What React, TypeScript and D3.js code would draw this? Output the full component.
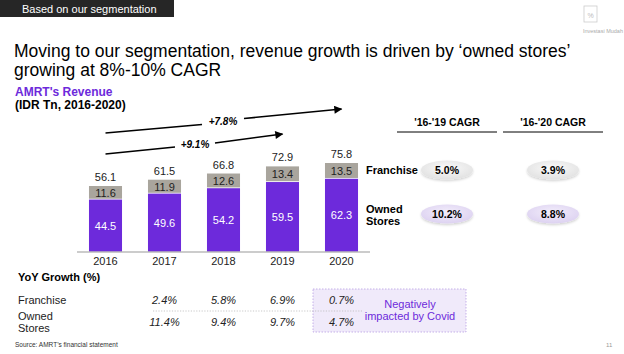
import React from "react";
import * as d3 from "d3";

const years = ["2016", "2017", "2018", "2019", "2020"];
const ownedStores = [44.5, 49.6, 54.2, 59.5, 62.3];
const franchise = [11.6, 11.9, 12.6, 13.4, 13.5];
const totals = [56.1, 61.5, 66.8, 72.9, 75.8];
const yoyFranchise = ["", "2.4%", "5.8%", "6.9%", "0.7%"];
const yoyOwned = ["", "11.4%", "9.4%", "9.7%", "4.7%"];
const cagrHeaders = ["'16-'19 CAGR", "'16-'20 CAGR"];
const cagrFranchise = ["5.0%", "3.9%"];
const cagrOwned = ["10.2%", "8.8%"];

const PURPLE = "#6D2ADB";
const GRAY = "#A9A59D";
const FONT = "'Liberation Sans', Arial, sans-serif";

export default function App() {
  const W = 624, H = 354;
  const x = d3.scaleBand<string>().domain(years).range([76, 371]).paddingInner(0.44).paddingOuter(0.22);
  const y = d3.scaleLinear().domain([0, 80]).range([251.5, 158.1]);
  const cx = (yr: string) => (x(yr) as number) + x.bandwidth() / 2;
  const cagrX = [447, 553];

  return (
    <svg width={W} height={H} style={{ position: "absolute", left: 0, top: 0, background: "#fff" }} fontFamily={FONT}>
      <defs>
        <marker id="ah" viewBox="0 0 10 10" refX="9" refY="5" markerWidth="6" markerHeight="5" orient="auto">
          <path d="M0,0 L10,5 L0,10 z" fill="#000" />
        </marker>
        <radialGradient id="gGray" cx="50%" cy="40%" r="60%">
          <stop offset="0%" stopColor="#fafafa" />
          <stop offset="100%" stopColor="#e2e2e2" />
        </radialGradient>
        <radialGradient id="gPurple" cx="50%" cy="40%" r="60%">
          <stop offset="0%" stopColor="#f3eefb" />
          <stop offset="100%" stopColor="#ddd2f1" />
        </radialGradient>
        <filter id="sh" x="-20%" y="-30%" width="140%" height="170%">
          <feDropShadow dx="0" dy="1.5" stdDeviation="1.2" floodColor="#000" floodOpacity="0.18" />
        </filter>
      </defs>

      {/* header bar */}
      <rect x={0} y={0} width={174} height={17} fill="#262626" />
      <text x={22} y={12.5} fontSize={11} fill="#fff">Based on our segmentation</text>

      {/* logo */}
      <rect x={584} y={6} width={13} height={16} fill="none" stroke="#ccc" strokeWidth={0.8} />
      <text x={590.5} y={18} fontSize={7} fill="#bbb" textAnchor="middle">%</text>
      <text x={623} y={33} fontSize={5.5} fill="#aaa" textAnchor="end">Investasi Mudah</text>

      {/* title */}
      <text x={14} y={57} fontSize={17.5} fill="#000">Moving to our segmentation, revenue growth is driven by ‘owned stores’</text>
      <text x={14} y={76} fontSize={17.5} fill="#000">growing at 8%-10% CAGR</text>
      <text x={15} y={96} fontSize={12} fontWeight="bold" fill={PURPLE}>AMRT's Revenue</text>
      <text x={15} y={109} fontSize={12} fontWeight="bold" fill="#000">(IDR Tn, 2016-2020)</text>

      {/* CAGR arrows */}
      <line x1={cx("2016")} y1={133} x2={202} y2={124.5} stroke="#000" strokeWidth={1.6} />
      <line x1={244} y1={118.5} x2={cx("2020")} y2={109} stroke="#000" strokeWidth={1.6} markerEnd="url(#ah)" />
      <text x={223} y={125} fontSize={10} fontWeight="bold" fontStyle="italic" textAnchor="middle">+7.8%</text>
      <line x1={cx("2016")} y1={154} x2={175} y2={147} stroke="#000" strokeWidth={1.6} />
      <line x1={215} y1={143} x2={cx("2019")} y2={134} stroke="#000" strokeWidth={1.6} markerEnd="url(#ah)" />
      <text x={195} y={148} fontSize={10} fontWeight="bold" fontStyle="italic" textAnchor="middle">+9.1%</text>

      {/* bars */}
      {years.map((yr, i) => {
        const x0 = x(yr) as number;
        const bw = x.bandwidth();
        const yO = y(ownedStores[i]);
        const yF = y(ownedStores[i] + franchise[i]);
        return (
          <g key={yr}>
            <rect x={x0} y={yO} width={bw} height={y(0) - yO} fill={PURPLE} />
            <rect x={x0} y={yF} width={bw} height={yO - yF - 0.8} fill={GRAY} />
            <text x={cx(yr)} y={(yO + y(0)) / 2 + 4} fontSize={11} fill="#fff" textAnchor="middle">{ownedStores[i].toFixed(1)}</text>
            <text x={cx(yr)} y={(yF + yO) / 2 + 4} fontSize={11} fill="#222" textAnchor="middle">{franchise[i].toFixed(1)}</text>
            <text x={cx(yr)} y={y(totals[i]) - 5} fontSize={11} fill="#222" textAnchor="middle">{totals[i].toFixed(1)}</text>
            <text x={cx(yr)} y={265} fontSize={11} fill="#222" textAnchor="middle">{yr}</text>
          </g>
        );
      })}
      <line x1={77} x2={370} y1={y(0) + 0.5} y2={y(0) + 0.5} stroke="#999" strokeWidth={1} />

      {/* CAGR table */}
      {cagrHeaders.map((h, j) => (
        <g key={h}>
          <text x={cagrX[j]} y={126} fontSize={10.5} fontWeight="bold" textAnchor="middle">{h}</text>
          <line x1={cagrX[j] - 50} x2={cagrX[j] + 50} y1={132} y2={132} stroke="#000" strokeWidth={1} />
          <ellipse cx={cagrX[j]} cy={170} rx={26} ry={9.5} fill="url(#gGray)" filter="url(#sh)" />
          <text x={cagrX[j]} y={174} fontSize={10.5} fontWeight="bold" textAnchor="middle">{cagrFranchise[j]}</text>
          <ellipse cx={cagrX[j]} cy={214} rx={26} ry={9.5} fill="url(#gPurple)" filter="url(#sh)" />
          <text x={cagrX[j]} y={218} fontSize={10.5} fontWeight="bold" textAnchor="middle">{cagrOwned[j]}</text>
        </g>
      ))}
      <text x={366} y={174} fontSize={11} fontWeight="bold">Franchise</text>
      <text x={366} y={213} fontSize={11} fontWeight="bold">Owned</text>
      <text x={366} y={225} fontSize={11} fontWeight="bold">Stores</text>

      {/* YoY table */}
      <rect x={313} y={289} width={153} height={43} fill="#F0EAFA" stroke="#B79FE3" strokeWidth={0.8} strokeDasharray="1.5,1.5" />
      <line x1={153} x2={362} y1={311} y2={311} stroke="#bbb" strokeWidth={0.8} strokeDasharray="1.2,1.5" />
      <text x={410} y={308} fontSize={11} fill={PURPLE} textAnchor="middle">Negatively</text>
      <text x={410} y={320} fontSize={11} fill={PURPLE} textAnchor="middle">impacted by Covid</text>
      <text x={18} y={281} fontSize={11} fontWeight="bold">YoY Growth (%)</text>
      <text x={18} y={304} fontSize={11} fill="#222">Franchise</text>
      <text x={18} y={320} fontSize={11} fill="#222">Owned</text>
      <text x={18} y={332} fontSize={11} fill="#222">Stores</text>
      {years.map((yr, i) => (
        <g key={"yoy" + yr}>
          <text x={cx(yr)} y={304} fontSize={11} fontStyle="italic" fill="#222" textAnchor="middle">{yoyFranchise[i]}</text>
          <text x={cx(yr)} y={326} fontSize={11} fontStyle="italic" fill="#222" textAnchor="middle">{yoyOwned[i]}</text>
        </g>
      ))}

      <text x={15} y={347} fontSize={6.5} fill="#333">Source: AMRT’s financial statement</text>
      <text x={606} y={347} fontSize={6} fill="#999">11</text>
    </svg>
  );
}
